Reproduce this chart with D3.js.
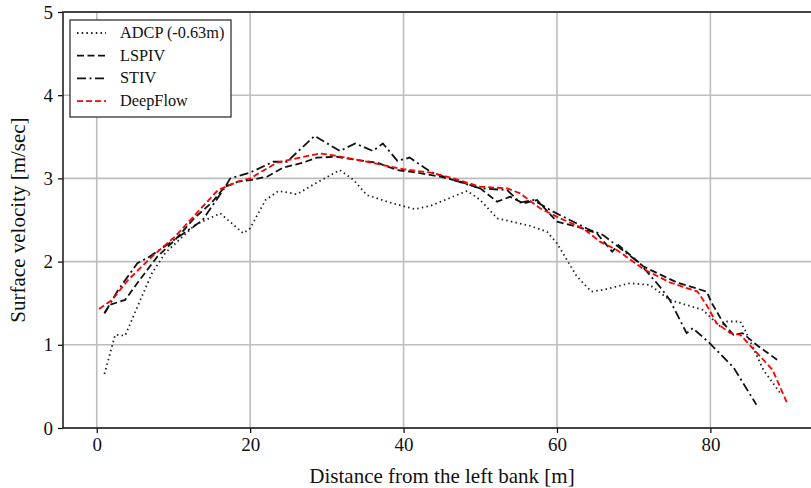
<!DOCTYPE html>
<html>
<head>
<meta charset="utf-8">
<script src="https://cdn.jsdelivr.net/npm/d3@7/dist/d3.min.js"></script>
<style>
  body { margin: 0; background: #fff; }
  text { font-family: "Liberation Serif", "DejaVu Serif", serif; }
</style>
</head>
<body>
<div id="chart"></div>
<script>
// data: [distance m, velocity m/s]
var adcp = [[1,0.65],[2.4,1.12],[3.7,1.11],[5.5,1.5],[7.2,1.86],[8.9,2.1],[12.8,2.44],[16.1,2.58],[19.1,2.34],[20,2.4],
  [22,2.74],[23.7,2.85],[26.1,2.81],[28.7,2.95],[31.7,3.1],[33.5,2.98],[35.2,2.8],[38.2,2.71],[41.5,2.63],[43.5,2.67],
  [48.3,2.85],[50,2.74],[52.2,2.52],[56.5,2.43],[58.7,2.36],[60,2.22],[62.6,1.82],[64.5,1.64],[66,1.66],[69.5,1.74],
  [72.1,1.72],[74.7,1.54],[79,1.42],[81.3,1.22],[82.2,1.28],[83.9,1.28],[84.5,1.18],[86.9,0.7],[89.1,0.42]];
var lspiv = [[1,1.38],[1.7,1.48],[3.7,1.54],[5.6,1.78],[7.9,2.06],[10.2,2.26],[12.8,2.53],[15,2.71],[16.7,2.9],[18.4,2.96],
  [20,2.98],[22.2,3.02],[24.3,3.13],[26.9,3.19],[28.7,3.25],[31.3,3.26],[34,3.22],[36.5,3.19],[39.2,3.1],[41.7,3.07],
  [44.8,3.02],[47.4,2.96],[50,2.88],[52.2,2.72],[53.9,2.78],[55.6,2.7],[57.4,2.74],[60,2.48],[62.6,2.42],[65.2,2.34],
  [67.2,2.12],[68,2.2],[71.3,1.94],[75.6,1.75],[79.5,1.64],[80.2,1.5],[81.7,1.26],[83,1.12],[84.2,1.14],[86,1.0],[88.7,0.82]];
var stiv = [[1,1.38],[2.8,1.66],[5.3,1.98],[6.9,2.06],[12.6,2.42],[13.8,2.5],[16.7,2.89],[17.4,3.0],[20,3.07],[23,3.2],
  [24.8,3.2],[28.4,3.51],[31.7,3.33],[33.7,3.42],[36,3.33],[37.3,3.42],[39.2,3.21],[40.8,3.25],[43.5,3.08],[46.5,2.98],
  [50,2.88],[53.5,2.86],[55.2,2.71],[56.9,2.74],[59.5,2.6],[64.3,2.38],[66,2.32],[70.8,1.98],[73.4,1.7],[74.7,1.54],
  [76.9,1.14],[77.7,1.2],[79.9,1.02],[83,0.73],[86,0.28]];
var deepflow = [[0.3,1.43],[2,1.54],[4.1,1.78],[7.2,2.06],[10.2,2.3],[12.8,2.56],[15.8,2.86],[18.4,2.96],[20,3.0],[23.5,3.19],
  [26.5,3.25],[29.1,3.3],[31.3,3.27],[34.7,3.21],[37.3,3.16],[40,3.11],[43.5,3.07],[46.5,3.0],[50,2.9],[53.5,2.88],
  [55.2,2.82],[57.8,2.64],[60.4,2.52],[63.4,2.4],[65.6,2.24],[67.8,2.14],[71.3,1.91],[74.7,1.75],[78.3,1.64],[79.5,1.48],
  [80.8,1.26],[82.6,1.14],[83.9,1.12],[86.1,0.9],[88.1,0.7],[90,0.3]];

var seriesNames = ['ADCP (-0.63m)', 'LSPIV', 'STIV', 'DeepFlow'];
var xTicks = [0, 20, 40, 60, 80];
var yTicks = [0, 1, 2, 3, 4, 5];

var width = 811, height = 488;
var margin = {left: 63, top: 12, right: -6, bottom: 60};

var svg = d3.select('#chart').append('svg')
  .attr('width', width)
  .attr('height', height);

var x = d3.scaleLinear().domain([-4.4, 93.9]).range([margin.left, width - margin.right]);
var y = d3.scaleLinear().domain([0, 5]).range([height - margin.bottom, margin.top]);

// grid
svg.append('g').selectAll('line.gx')
  .data(xTicks).enter().append('line')
  .attr('x1', d => x(d)).attr('x2', d => x(d))
  .attr('y1', y(0)).attr('y2', y(5))
  .attr('stroke', '#bdbdbd').attr('stroke-width', 1.6);
svg.append('g').selectAll('line.gy')
  .data(yTicks).enter().append('line')
  .attr('x1', x.range()[0]).attr('x2', x.range()[1])
  .attr('y1', d => y(d)).attr('y2', d => y(d))
  .attr('stroke', '#bdbdbd').attr('stroke-width', 1.6);

// axes
var xAxis = svg.append('g')
  .attr('transform', 'translate(0,' + y(0) + ')')
  .call(d3.axisBottom(x).tickValues(xTicks).tickSize(5).tickPadding(5));
var yAxis = svg.append('g')
  .attr('transform', 'translate(' + x.range()[0] + ',0)')
  .call(d3.axisLeft(y).tickValues(yTicks).tickFormat(d3.format('d')).tickSize(5).tickPadding(5));
[xAxis, yAxis].forEach(function(ax){
  ax.select('.domain').remove();
  ax.selectAll('line').attr('stroke', '#000').attr('stroke-width', 1.2);
  ax.selectAll('text').attr('font-size', 19).attr('fill', '#111')
    .style('font-family', '"Liberation Serif", serif');
});

// frame
svg.append('rect')
  .attr('x', x.range()[0]).attr('y', y(5))
  .attr('width', x.range()[1] - x.range()[0])
  .attr('height', y(0) - y(5))
  .attr('fill', 'none').attr('stroke', '#222').attr('stroke-width', 1.6);

var line = d3.line().x(d => x(d[0])).y(d => y(d[1]));

var styles = [
  {data: adcp, color: '#222', dash: '1.5,3.2', w: 1.8},
  {data: lspiv, color: '#111', dash: '7,3.5', w: 1.8},
  {data: stiv, color: '#111', dash: '9,3.5,2,3.5', w: 1.8},
  {data: deepflow, color: '#ff0000', dash: '6,3', w: 1.8}
];

styles.forEach(function(s){
  svg.append('path')
    .datum(s.data)
    .attr('d', line)
    .attr('fill', 'none')
    .attr('stroke', s.color)
    .attr('stroke-width', s.w)
    .attr('stroke-dasharray', s.dash);
});

// legend
var lg = svg.append('g');
lg.append('rect')
  .attr('x', 70).attr('y', 20).attr('width', 161).attr('height', 97)
  .attr('fill', '#fff').attr('stroke', '#333').attr('stroke-width', 1.3);
seriesNames.forEach(function(name, i){
  var ly = 33 + i * 22.7;
  lg.append('line')
    .attr('x1', 77).attr('x2', 106).attr('y1', ly).attr('y2', ly)
    .attr('stroke', styles[i].color).attr('stroke-width', 1.8)
    .attr('stroke-dasharray', styles[i].dash);
  lg.append('text')
    .attr('x', 120).attr('y', ly + 5)
    .attr('font-size', 16.3).attr('fill', '#111')
    .text(name);
});

// axis titles
svg.append('text')
  .attr('x', 442).attr('y', 483)
  .attr('text-anchor', 'middle').attr('font-size', 21).attr('fill', '#111')
  .text('Distance from the left bank [m]');
svg.append('text')
  .attr('transform', 'translate(25,' + ((y(0) + y(5)) / 2) + ') rotate(-90)')
  .attr('text-anchor', 'middle').attr('font-size', 21).attr('fill', '#111')
  .text('Surface velocity [m/sec]');
</script>
</body>
</html>
